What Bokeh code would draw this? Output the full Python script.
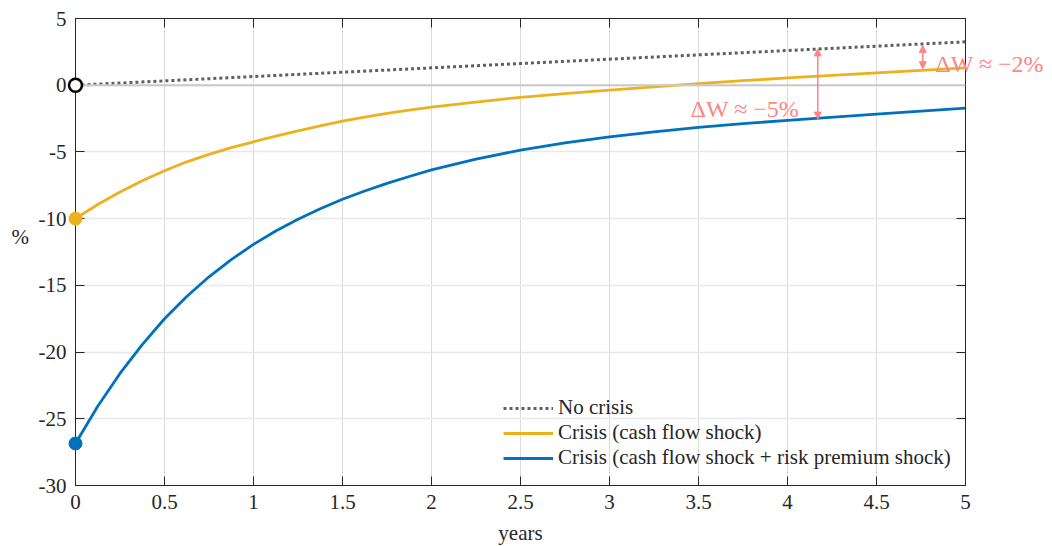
from bokeh.plotting import figure
from bokeh.models import (Range1d, LinearAxis, FixedTicker, Arrow, NormalHead,
                          Legend, LegendItem, Span, CustomJSTickFormatter)
from bokeh.core.properties import value
from bokeh.embed import file_html
from bokeh.resources import INLINE

# ---- data ----
t_nocrisis = [0, 5]
no_crisis = [0, 3.25]

t = [0, 0.125, 0.25, 0.375, 0.5, 0.625, 0.75, 0.875, 1, 1.125, 1.25, 1.375, 1.5, 1.625,
     1.75, 1.875, 2, 2.25, 2.5, 2.75, 3, 3.25, 3.5, 3.75, 4, 4.5, 5]
crisis_cf = [-10, -8.94, -8.0, -7.16, -6.41, -5.74, -5.18, -4.68, -4.24, -3.82, -3.42, -3.05,
             -2.7, -2.4, -2.11, -1.87, -1.65, -1.26, -0.91, -0.63, -0.37, -0.12, 0.12, 0.34,
             0.55, 0.93, 1.3]
crisis_cf_rp = [-26.85, -24.06, -21.6, -19.44, -17.5, -15.84, -14.36, -13.07, -11.93, -10.93,
                -10.05, -9.26, -8.55, -7.93, -7.36, -6.84, -6.35, -5.54, -4.86, -4.32, -3.87,
                -3.49, -3.16, -2.88, -2.64, -2.16, -1.72]

x_ticks = [0, 0.5, 1, 1.5, 2, 2.5, 3, 3.5, 4, 4.5, 5]
x_tick_labels = ["0", "0.5", "1", "1.5", "2", "2.5", "3", "3.5", "4", "4.5", "5"]
y_ticks = [-30, -25, -20, -15, -10, -5, 0, 5]
y_tick_labels = ["-30", "-25", "-20", "-15", "-10", "-5", "0", "5"]

series_names = ["No crisis", "Crisis (cash flow shock)",
                "Crisis (cash flow shock + risk premium shock)"]

# annotation arrows: (x, y_top, y_bottom) and texts (x, y, text)
arrow_5 = (4.17, 2.72, -2.54)
arrow_2 = (4.76, 2.98, 1.24)
text_5 = (3.455, -1.75, "ΔW ≈ −5%")
text_2 = (4.83, 1.62, "ΔW ≈ −2%")
ylabel_pos = (-0.36, -11.4, "%")
xlabel_pos = (2.5, -34.45, "years")

# ---- styling ----
FONT = "Liberation Serif"
AX = "#262626"
YELLOW = "#EDB120"
BLUE = "#0072BD"
GRAY = "#5F5F5F"
RED = "#FF8484"

p = figure(width=1052, height=546, x_range=Range1d(0, 5), y_range=Range1d(-30, 5),
           output_backend="svg", toolbar_location=None,
           min_border_left=75, min_border_right=87, min_border_top=18, min_border_bottom=61)
p.background_fill_color = "white"
p.border_fill_color = "white"
p.outline_line_color = AX
p.outline_line_width = 1

xt = FixedTicker(ticks=x_ticks)
yt = FixedTicker(ticks=y_ticks)

def style_axis(ax, ticker, labels=None):
    ax.ticker = ticker
    ax.axis_line_color = AX
    ax.major_tick_line_color = AX
    ax.major_tick_in = 9
    ax.major_tick_out = 0
    ax.minor_tick_line_color = None
    ax.major_label_text_font = FONT
    ax.major_label_text_font_size = "21px"
    ax.major_label_text_color = AX
    ax.major_label_standoff = 9
    if labels is not None:
        ax.major_label_overrides = labels
    else:
        ax.formatter = CustomJSTickFormatter(code="return '';")
        ax.major_label_text_font_size = "1px"
        ax.major_label_standoff = 0

style_axis(p.xaxis[0], xt, {v: s for v, s in zip(x_ticks, x_tick_labels)})
style_axis(p.yaxis[0], yt, {v: s for v, s in zip(y_ticks, y_tick_labels)})
top = LinearAxis()
right = LinearAxis()
style_axis(top, xt)
style_axis(right, yt)
p.add_layout(top, "above")
p.add_layout(right, "right")

p.xgrid.ticker = xt
p.ygrid.ticker = yt
p.xgrid.grid_line_color = "#DCDCDC"
p.xgrid.grid_line_width = 1
p.ygrid.grid_line_color = "#E8E8E8"
p.ygrid.grid_line_width = 1.5

p.add_layout(Span(location=0, dimension="width", line_color="#C9C9C9", line_width=2))

r0 = p.line(t_nocrisis, no_crisis, line_color=GRAY, line_width=3, line_dash="3 3")
r1 = p.line(t, crisis_cf, line_color=YELLOW, line_width=2.8, line_join="round")
r2 = p.line(t, crisis_cf_rp, line_color=BLUE, line_width=2.8, line_join="round")

p.scatter([t_nocrisis[0]], [no_crisis[0]], size=13, fill_color="white", line_color="black",
          line_width=2.5, level="overlay")
p.scatter([t[0]], [crisis_cf[0]], size=13, fill_color=YELLOW, line_color=YELLOW, level="overlay")
p.scatter([t[0]], [crisis_cf_rp[0]], size=13, fill_color=BLUE, line_color=BLUE, level="overlay")

for (ax_, y0, y1) in (arrow_5, arrow_2):
    p.add_layout(Arrow(start=NormalHead(size=7, fill_color=RED, line_color=RED),
                       end=NormalHead(size=7, fill_color=RED, line_color=RED),
                       x_start=ax_, y_start=y1, x_end=ax_, y_end=y0,
                       line_color=RED, line_width=1.5))

p.text(x=[text_5[0], text_2[0]], y=[text_5[1], text_2[1]], text=[text_5[2], text_2[2]],
       text_font=value(FONT), text_font_size="24px", text_color=RED,
       text_baseline="alphabetic", text_align="left", level="overlay")
p.text(x=[ylabel_pos[0]], y=[ylabel_pos[1]], text=[ylabel_pos[2]],
       text_font=value(FONT), text_font_size="21px", text_color=AX,
       text_baseline="alphabetic", text_align="left", level="overlay")
p.text(x=[xlabel_pos[0]], y=[xlabel_pos[1]], text=[xlabel_pos[2]],
       text_font=value(FONT), text_font_size="21px", text_color=AX,
       text_baseline="bottom", text_align="center", level="overlay")

legend = Legend(items=[LegendItem(label=series_names[0], renderers=[r0]),
                       LegendItem(label=series_names[1], renderers=[r1]),
                       LegendItem(label=series_names[2], renderers=[r2])],
                location=(428, 15), padding=0, margin=0, spacing=0,
                glyph_width=50, glyph_height=20, label_height=20, label_standoff=5,
                label_text_font=FONT, label_text_font_size="21px", label_text_color=AX,
                background_fill_alpha=0, border_line_alpha=0)
p.add_layout(legend)

open("out.html", "w").write(file_html(p, INLINE))
